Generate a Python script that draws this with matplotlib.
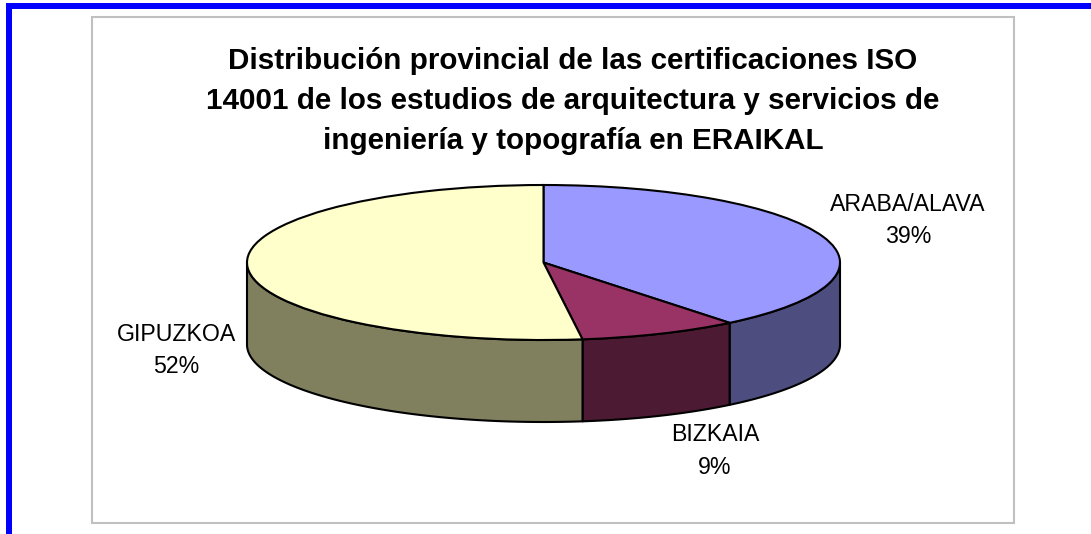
import numpy as np
import matplotlib
matplotlib.use("Agg")
import matplotlib.pyplot as plt
from matplotlib.patches import Rectangle

plt.rcParams['font.family'] = ['Liberation Sans', 'DejaVu Sans']

categories = ["ARABA/ALAVA", "BIZKAIA", "GIPUZKOA"]
values = [39.2, 8.7, 52.1]
top_colors = ["#9999FF", "#993366", "#FFFFCC"]
side_colors = ["#4D4D80", "#4D1A33", "#80805F"]
title = ("Distribución provincial de las certificaciones ISO\n"
         "14001 de los estudios de arquitectura y servicios de\n"
         "ingeniería y topografía en ERAIKAL")

W, H = 1091, 534
fig = plt.figure(figsize=(W / 100, H / 100), dpi=100, facecolor="white")
bg = fig.add_axes([0, 0, 1, 1])
bg.set_xlim(0, W)
bg.set_ylim(H, 0)
bg.axis("off")

# page border and chart frame
bg.add_patch(Rectangle((6, 3), W, 5.5, fc="#0000FF", ec="none"))
bg.add_patch(Rectangle((6, 3), 5.5, H, fc="#0000FF", ec="none"))
bg.add_patch(Rectangle((91.5, 17), 922, 506, fc="white", ec="#C0C0C0", lw=1.5))

# 3D pie: unit circle squeezed into an ellipse, with a wall below it
cx, cy, rx, ry, depth = 543.5, 262.5, 296.5, 77.5, 82
d = depth / ry
left, right = cx - rx, cx + rx
top, bottom = cy - ry, cy + ry + depth
ax = fig.add_axes([left / W, 1 - bottom / H, (right - left) / W, (bottom - top) / H])
ax.patch.set_alpha(0)

edges = 90 - np.cumsum([0] + values) * 3.6
for start, stop, side in zip(edges[:-1], edges[1:], side_colors):
    lo, hi = max(stop, -180), min(start, 0)
    if lo < hi:
        t = np.radians(np.linspace(hi, lo, 120))
        xs = np.r_[np.cos(t), np.cos(t[::-1])]
        ys = np.r_[np.sin(t), np.sin(t[::-1]) - d]
        ax.fill(xs, ys, fc=side, ec="black", lw=1.5, joinstyle="round", clip_on=False)

ax.pie(values, colors=top_colors, startangle=90, counterclock=False, radius=1,
       wedgeprops=dict(ec="black", lw=1.5, clip_on=False))
ax.set_aspect("auto")
ax.set_xlim(-1, 1)
ax.set_ylim(-1 - d, 1)
ax.axis("off")

# texts
bg.text(573, 101, title, ha="center", va="center", fontsize=21.3, fontweight="bold",
        color="black", linespacing=1.54)
label_pos = [(908, 220.5), (715, 451), (176, 350.5)]
for name, v, (x, y) in zip(categories, values, label_pos):
    bg.text(x, y, f"{name}\n{v:.0f}%", ha="center", va="center", fontsize=16.7,
            color="black", linespacing=1.52)

fig.savefig("out.png", dpi=100, facecolor="white")
